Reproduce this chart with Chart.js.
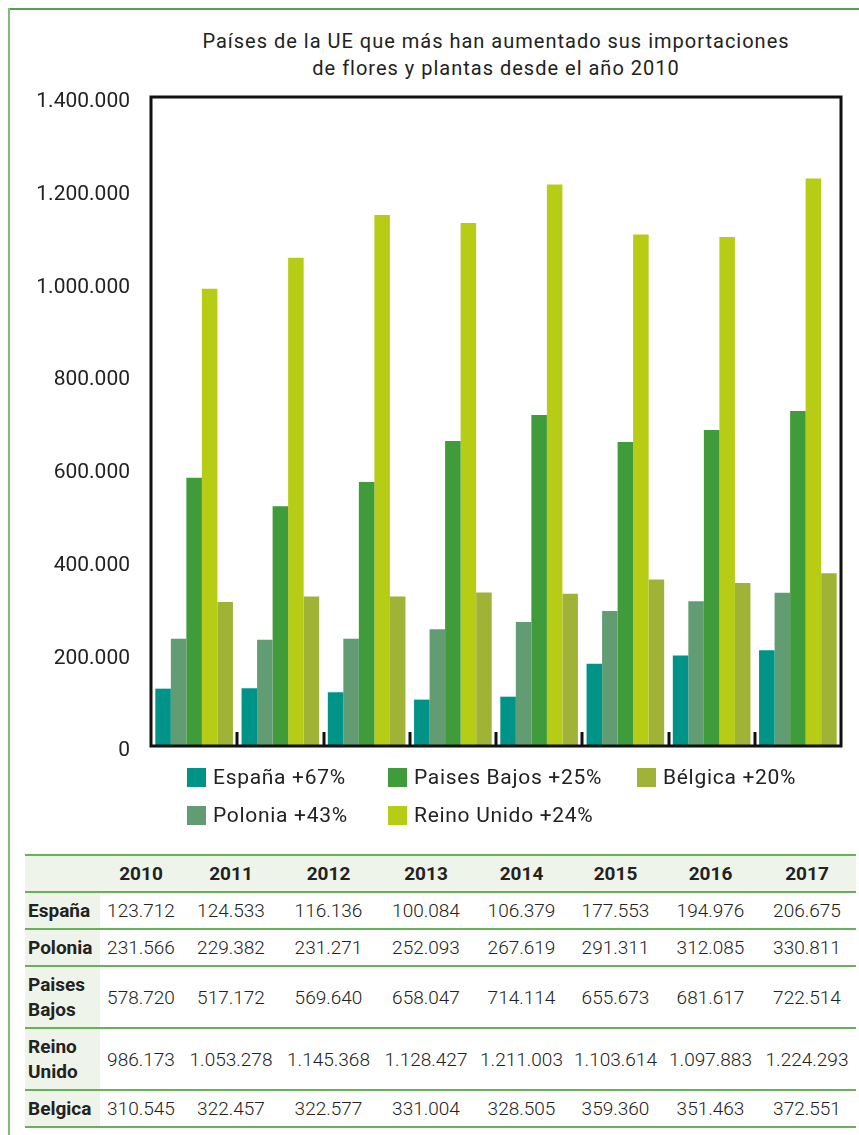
<!DOCTYPE html>
<html><head><meta charset="utf-8">
<script src="https://cdn.jsdelivr.net/npm/chart.js@4.4.1/dist/chart.umd.min.js"></script>
<style>
html,body{margin:0;padding:0;background:#fff;}
body{width:859px;height:1135px;position:relative;overflow:hidden;font-family:Roboto, "Noto Sans", sans-serif;color:#222;}
#frameTop{position:absolute;left:8px;top:8px;right:0;height:2px;background:#4ea544;}
#frameLeft{position:absolute;left:8px;top:8px;width:2px;bottom:0;background:#7cbf6e;}
#title{position:absolute;left:131px;width:730px;top:28px;text-align:center;font-size:20px;letter-spacing:1px;line-height:27px;font-weight:400;color:#222;}
#chartBox{position:absolute;left:0;top:80px;width:859px;height:690px;}
#legend{position:absolute;left:187px;top:765px;display:grid;grid-auto-flow:column;grid-template-rows:38px 38px;grid-template-columns:201px 249px 180px;}
.li{display:flex;align-items:center;height:24px;font-size:21px;letter-spacing:0.7px;color:#222;white-space:nowrap;}
.sw{width:19px;height:19px;margin-right:7px;flex:none;}
#tbl{position:absolute;left:25px;top:854px;border-collapse:collapse;table-layout:fixed;width:831px;}
#tbl th,#tbl td{border-bottom:2px solid #66b256;text-align:center;padding:0;font-size:19px;color:#222;}
#tbl thead th{border-top:2px solid #66b256;background:#eef4e9;height:35px;font-weight:700;}
#tbl td{font-weight:300;}
#tbl td.rl{background:#eef4e9;font-weight:700;text-align:left;padding-left:3px;line-height:25px;font-size:19px;}
</style>
</head><body>
<div id="frameTop"></div><div id="frameLeft"></div>
<div id="title">Países de la UE que más han aumentado sus importaciones<br>de flores y plantas desde el año 2010</div>
<div id="chartBox"><canvas id="c" width="859" height="690"></canvas></div>
<div id="legend"></div>
<table id="tbl"><colgroup id="cg"></colgroup><thead><tr id="hr"></tr></thead><tbody id="tb"></tbody></table>
<script>
const years = ['2010','2011','2012','2013','2014','2015','2016','2017'];
const espana = [123712,124533,116136,100084,106379,177553,194976,206675];
const polonia = [231566,229382,231271,252093,267619,291311,312085,330811];
const paisesBajos = [578720,517172,569640,658047,714114,655673,681617,722514];
const reinoUnido = [986173,1053278,1145368,1128427,1211003,1103614,1097883,1224293];
const belgica = [310545,322457,322577,331004,328505,359360,351463,372551];
const legendLabels = ['España +67%','Polonia +43%','Paises Bajos +25%','Reino Unido +24%','Bélgica +20%'];
const tableRowNames = ['España','Polonia','Paises<br>Bajos','Reino<br>Unido','Belgica'];
const yTickValues = [0,200000,400000,600000,800000,1000000,1200000,1400000];
const colors = ['#009488','#629c72','#409b3b','#b7cc15','#a0b337'];
const series = [espana, polonia, paisesBajos, reinoUnido, belgica];

const fmt = v => String(v).replace(/\B(?=(\d{3})+(?!\d))/g, '.');

// legend
const lg = document.getElementById('legend');
legendLabels.forEach((l,i)=>{
  const d=document.createElement('div'); d.className='li';
  d.innerHTML='<span class="sw" style="background:'+colors[i]+'"></span><span>'+l+'</span>';
  lg.appendChild(d);
});

// table
const colW=[75,82,98,97,98,93,95,95,98];
const cg=document.getElementById('cg');
colW.forEach(w=>{const c=document.createElement('col');c.style.width=w+'px';cg.appendChild(c);});
const hr=document.getElementById('hr');
hr.innerHTML='<th></th>'+years.map(y=>'<th>'+y+'</th>').join('');
const rowH=[37,37,62,62,37];
const tb=document.getElementById('tb');
series.forEach((s,i)=>{
  const tr=document.createElement('tr'); tr.style.height=rowH[i]+'px';
  tr.innerHTML='<td class="rl">'+tableRowNames[i]+'</td>'+s.map(v=>'<td>'+fmt(v)+'</td>').join('');
  tb.appendChild(tr);
});

const framePlugin = {
  id:'frame',
  afterDatasetsDraw(chart){
    const {ctx, chartArea:{left,top,right,bottom}, scales:{x}} = chart;
    ctx.save();
    ctx.strokeStyle='#111'; ctx.lineWidth=3;
    ctx.strokeRect(left, top, right-left, bottom-top);
    for(let i=1;i<x.ticks.length;i++){
      const px=Math.round((x.getPixelForTick(i-1)+x.getPixelForTick(i))/2);
      ctx.beginPath(); ctx.moveTo(px,bottom); ctx.lineTo(px,bottom-14); ctx.stroke();
    }
    ctx.restore();
  }
};

new Chart(document.getElementById('c'), {
  type:'bar',
  data:{
    labels: years,
    datasets: legendLabels.map((l,i)=>({label:l, data:series[i], backgroundColor:colors[i], borderWidth:0, barPercentage:1.0, categoryPercentage:0.9}))
  },
  options:{
    responsive:false, animation:false, devicePixelRatio:1,
    layout:{padding:{left:10,right:18,top:17,bottom:24}},
    plugins:{legend:{display:false}, title:{display:false}, tooltip:{enabled:false}},
    scales:{
      x:{offset:true, grid:{display:false}, border:{display:false}, ticks:{display:false},
         afterFit:s=>{s.height=0; s.paddingLeft=0; s.paddingRight=0;}},
      y:{min:0,max:1400000, grid:{display:false, drawTicks:false}, border:{display:false},
         afterBuildTicks:s=>{s.ticks=yTickValues.map(v=>({value:v}));},
         afterFit:s=>{s.width=141; s.paddingTop=0; s.paddingBottom=0;},
         ticks:{padding:21, labelOffset:5, color:'#222', font:{family:'Roboto', size:21}, callback:v=>fmt(v)}}
    }
  },
  plugins:[framePlugin]
});
</script>
</body></html>
